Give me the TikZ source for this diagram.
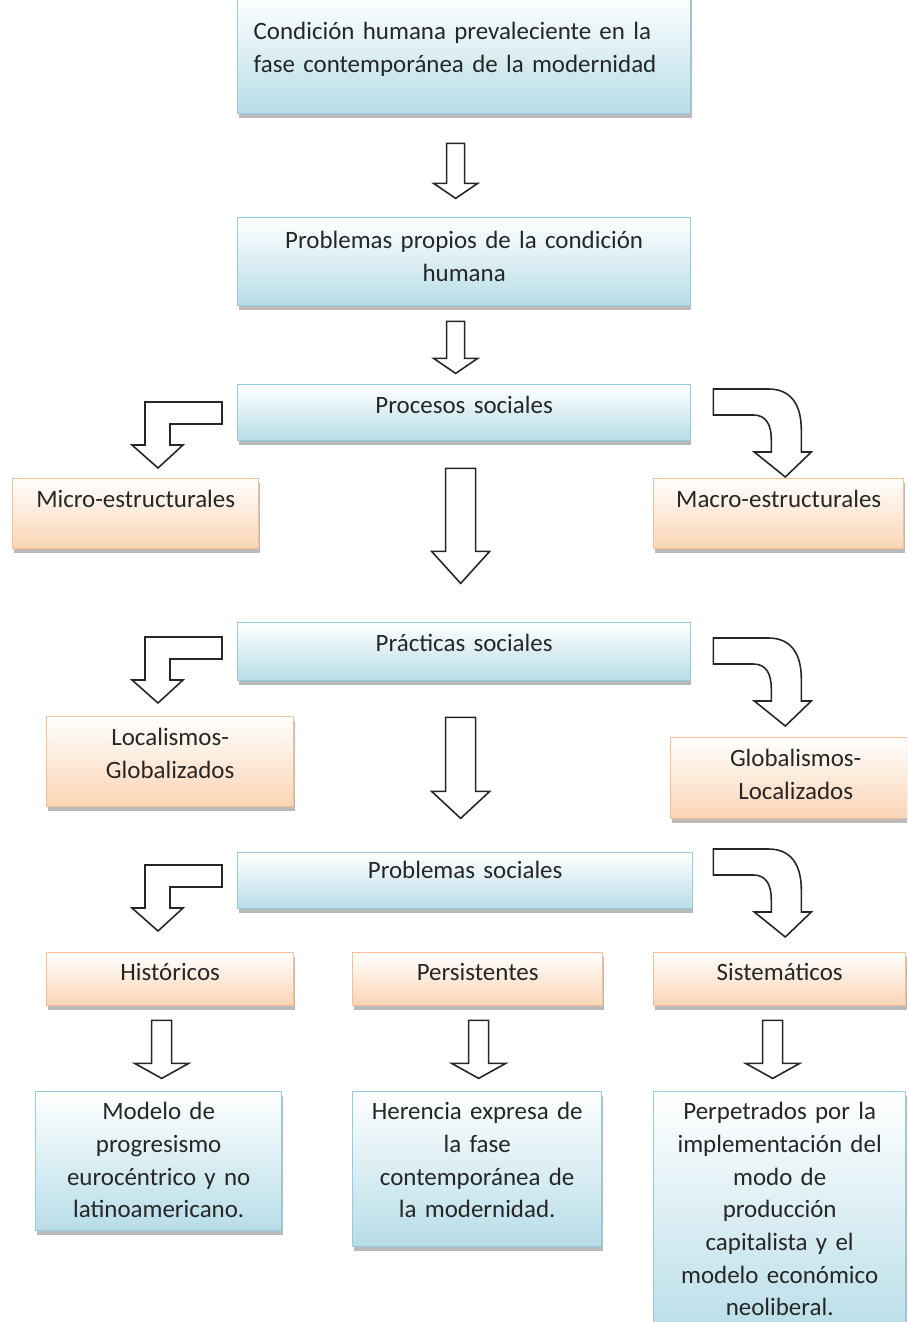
\documentclass[tikz,border=0pt]{standalone}
\usepackage{fontspec}
\setmainfont[WordSpace=0.8]{Carlito}
\usetikzlibrary{positioning,calc,shadows}
\definecolor{boxblue}{HTML}{B7DDE8}
\definecolor{boxblueline}{HTML}{93CDDD}
\definecolor{boxpeach}{HTML}{FBD4B4}
\definecolor{boxpeachline}{HTML}{F9BE93}
\definecolor{inkgrey}{HTML}{262626}
\tikzset{
  card/.style     = {inner xsep=0pt, inner ysep=0pt, align=center, text=inkgrey,
                     font=\fontsize{14.2}{18.6}\selectfont, anchor=north west, line width=0.8pt,
                     drop shadow={shadow xshift=0.5pt, shadow yshift=-2.2pt, fill=black!45, opacity=0.6}},
  bluebox/.style  = {card, draw=boxblueline, top color=white, bottom color=boxblue},
  peachbox/.style = {card, draw=boxpeachline, top color=white, bottom color=boxpeach},
  hd/.style 2 args = {text height=#1, text depth=#2},
  blk/.style      = {draw=black!85, fill=white, line width=0.9pt, line join=miter},
  pics/downblk/.style n args = {4}{code={
    \path[blk] (-#2,0) -- (#2,0) -- (#2,#1-#4) -- (#3,#1-#4) -- (0,#1)
               -- (-#3,#1-#4) -- (-#2,#1-#4) -- cycle;}},
  pics/leftbent/.style = {code={
    \path[blk] (0,0) -- (-77,0) -- (-77,43) -- (-90,43) -- (-64,66) -- (-39,43)
               -- (-52,43) -- (-52,22) -- (0,22) -- cycle;}},
  pics/rightbent/.style = {code={
    \path[blk] (0,0) -- (55,0) .. controls (78,0) and (88,16) .. (88,41) -- (88,63)
               -- (98,63) -- (72,88) -- (41,63) -- (58,63) -- (58,51)
               .. controls (58,36) and (53,26) .. (40,26) -- (0,26) -- cycle;}},
}
\begin{document}
\begin{tikzpicture}[x=0.02cm, y=-0.02cm]
  \clip (0,0) rectangle (907,1322);
  \node[bluebox, align=left, inner xsep=0.32cm, text width=8.42cm, hd={0.88cm}{1.48cm}] (cond) at (237,-5)
       {Condición humana prevaleciente en la\\ fase contemporánea de la modernidad};
  \node[bluebox, text width=9.06cm, hd={0.62cm}{1.14cm}] (prop) at (237,217)
       {Problemas propios de la condición\\ humana};
  \node[bluebox, text width=9.06cm, hd={0.58cm}{0.54cm}] (procesos) at (237,384) {Procesos sociales};
  \node[peachbox, text width=4.92cm, hd={0.58cm}{0.82cm}] (micro) at (12,478) {Micro-estructurales};
  \node[peachbox, text width=5.0cm, hd={0.58cm}{0.82cm}] (macro) at (653,478) {Macro-estructurales};
  \node[bluebox, text width=9.06cm, hd={0.58cm}{0.58cm}] (practicas) at (237,622) {Prácticas sociales};
  \node[peachbox, text width=4.94cm, hd={0.58cm}{1.22cm}] (local) at (46,716) {Localismos-\\ Globalizados};
  \node[peachbox, text width=5.0cm, hd={0.58cm}{1.04cm}] (global) at (670,737) {Globalismos-\\ Localizados};
  \node[bluebox, text width=9.1cm, hd={0.52cm}{0.60cm}] (psociales) at (237,852) {Problemas sociales};
  \node[peachbox, text width=4.94cm, hd={0.56cm}{0.50cm}] (hist) at (46,952) {Históricos};
  \node[peachbox, text width=5.0cm, hd={0.56cm}{0.50cm}] (pers) at (352,952) {Persistentes};
  \node[peachbox, text width=5.04cm, hd={0.56cm}{0.50cm}] (sist) at (653,952) {Sistemáticos};
  \node[bluebox, text width=4.92cm, hd={0.56cm}{2.22cm}] (modelo) at (35,1091)
       {Modelo de\\ progresismo\\ eurocéntrico y no\\ latinoamericano.};
  \node[bluebox, text width=4.98cm, hd={0.56cm}{2.54cm}] (herencia) at (352,1091)
       {Herencia expresa de\\ la fase\\ contemporánea de\\ la modernidad.};
  \node[bluebox, text width=5.04cm, hd={0.56cm}{4.42cm}] (perpet) at (653,1091)
       {Perpetrados por la\\ implementación del\\ modo de\\ producción\\ capitalista y el\\ modelo económico\\ neoliberal.};

  \pic at ($(cond.south)+(-8.5,29)$) {downblk={55}{9}{22}{15}};
  \pic at ($(prop.south)+(-8.5,15)$) {downblk={52}{9}{22}{15}};
  \pic at ($(procesos.south)+(-3.5,27)$) {downblk={115}{15}{29}{32}};
  \pic at ($(practicas.south)+(-3.5,36)$) {downblk={101}{15}{29}{27}};

  \pic at ($(procesos.north west)+(-15,18)$) {leftbent};
  \pic at ($(practicas.north west)+(-15,15)$) {leftbent};
  \pic at ($(psociales.north west)+(-15,13)$) {leftbent};
  \pic at ($(procesos.north east)+(22,5)$) {rightbent};
  \pic at ($(practicas.north east)+(22,16)$) {rightbent};
  \pic at ($(psociales.north east)+(20,-3)$) {rightbent};

  \foreach \src/\dx in {hist/-8.5, pers/1, sist/-7}
    \pic at ($(\src.south)+(\dx,14)$) {downblk={58}{10}{27}{15}};
\end{tikzpicture}
\end{document}
